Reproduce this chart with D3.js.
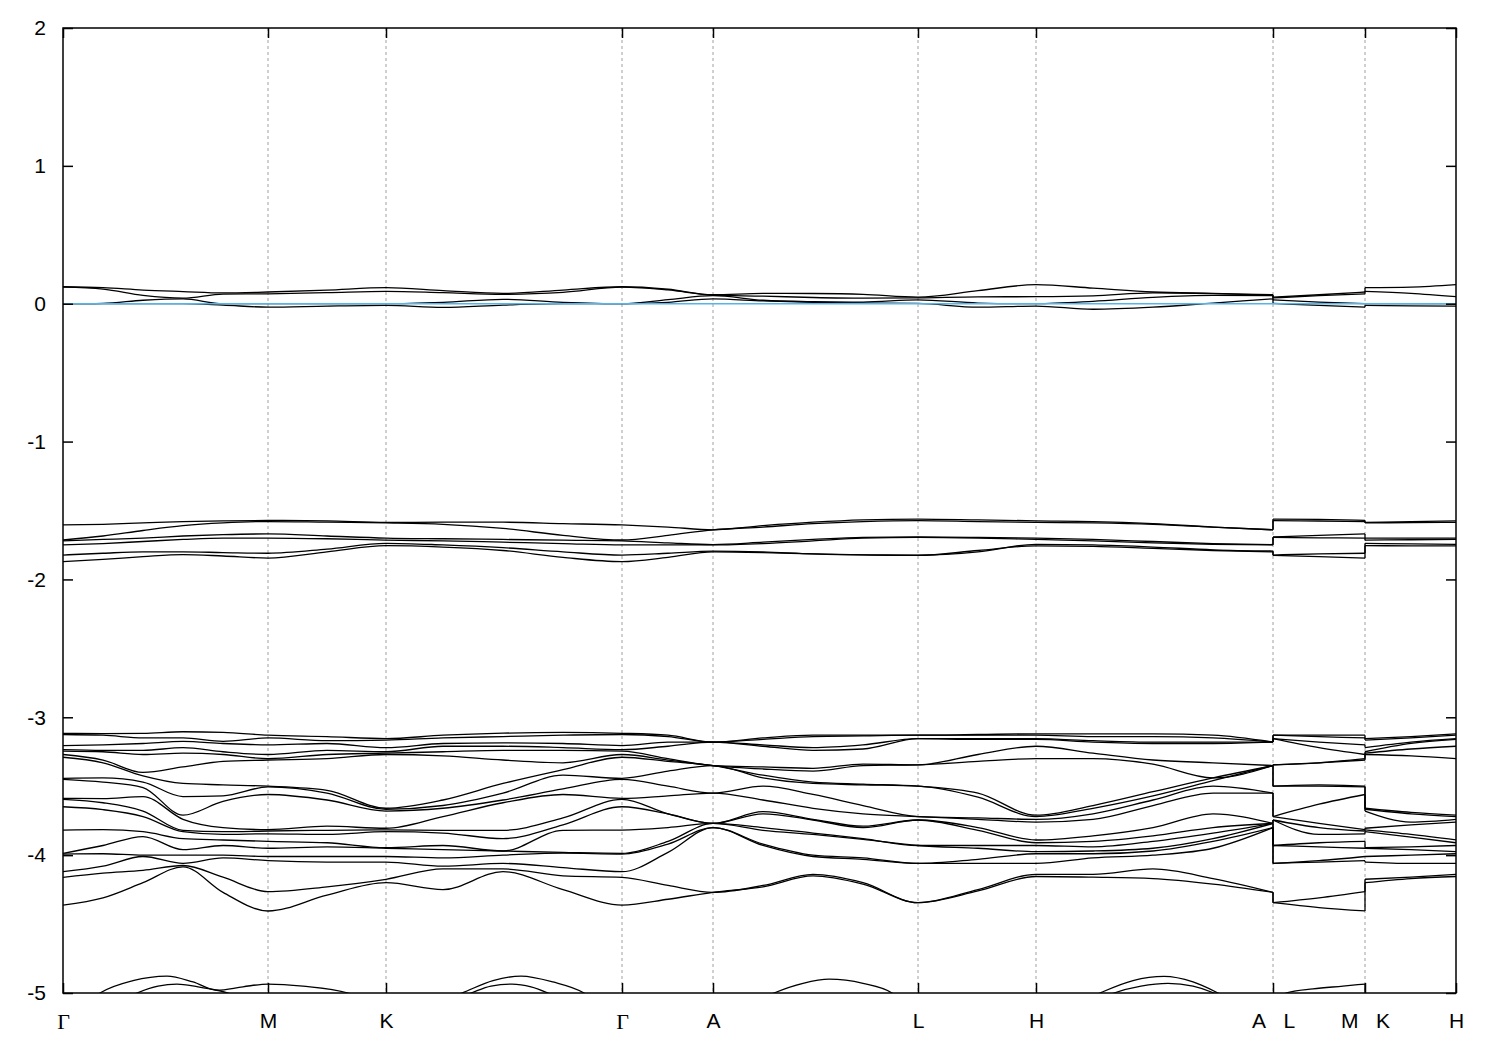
<!DOCTYPE html>
<html><head><meta charset="utf-8">
<script src="https://cdn.jsdelivr.net/npm/d3@7"></script>
<style>body{margin:0;background:#fff}</style>
</head><body>
<svg id="chart" width="1500" height="1050"></svg>
<script>
// ---- k-path (x axis) ----
const kTickPos = [0,205,323,559,650,855,973,1210,1302,1393];
const kTickLabels = ["Γ","M","K","Γ","A","L","H","A\u00a0\u00a0\u00a0L","M\u00a0\u00a0\u00a0K","H"];
const yTicks = [2,1,0,-1,-2,-3,-4,-5];
const kPath = [0,40,80,120,160,205,264,323,380,440,500,559,605,650,700,750,800,855,915,973,1030,1090,1150,1210];
const kLM = [1210,1256,1302];
const kKH = [1302,1348,1393];

// ---- bands near the Fermi level (per band) ----
const nearFermiPath = [
 [0.123,0.116,0.099,0.088,0.078,0.085,0.099,0.116,0.095,0.075,0.099,0.123,0.105,0.065,0.075,0.074,0.068,0.048,0.095,0.138,0.113,0.085,0.075,0.065],
 [0.12,0.106,0.06,0.04,0.07,0.072,0.08,0.09,0.08,0.068,0.082,0.12,0.10,0.062,0.055,0.045,0.04,0.042,0.05,0.051,0.057,0.078,0.073,0.062],
 [0,0.003,0.025,0.035,0,0,0,0,0.01,0.032,0.01,0,0.03,0.058,0.025,0.015,0.012,0.028,0.005,0,0.017,0.046,0.06,0.058],
 [0,0,0,0,-0.01,-0.025,-0.017,-0.012,-0.027,-0.01,0,0,0.01,0.035,0.02,0.01,0.005,0.002,-0.025,-0.017,-0.04,-0.025,0.005,0.035]
];
const nearFermiLM = [[0.048,0.065,0.085],[0.042,0.058,0.072],[0.028,0.012,0],[0.002,-0.012,-0.025]];
const nearFermiKH = [[0.116,0.12,0.138],[0.09,0.075,0.051],[0,0,0],[-0.012,-0.015,-0.017]];

// ---- bands around -1.7 eV (per band) ----
const midPath = [
 [-1.605,-1.60,-1.59,-1.58,-1.575,-1.572,-1.575,-1.586,-1.585,-1.585,-1.595,-1.605,-1.62,-1.64,-1.61,-1.585,-1.568,-1.562,-1.568,-1.575,-1.58,-1.595,-1.62,-1.64],
 [-1.714,-1.685,-1.645,-1.61,-1.59,-1.58,-1.585,-1.59,-1.60,-1.63,-1.68,-1.714,-1.68,-1.64,-1.62,-1.595,-1.58,-1.573,-1.58,-1.586,-1.59,-1.60,-1.62,-1.64],
 [-1.72,-1.71,-1.70,-1.685,-1.675,-1.67,-1.685,-1.70,-1.705,-1.71,-1.715,-1.72,-1.735,-1.747,-1.73,-1.71,-1.695,-1.692,-1.695,-1.70,-1.71,-1.725,-1.74,-1.747],
 [-1.75,-1.74,-1.725,-1.71,-1.70,-1.70,-1.705,-1.715,-1.72,-1.73,-1.74,-1.75,-1.75,-1.75,-1.74,-1.72,-1.70,-1.695,-1.70,-1.71,-1.72,-1.735,-1.745,-1.75],
 [-1.823,-1.81,-1.80,-1.80,-1.805,-1.81,-1.78,-1.738,-1.75,-1.77,-1.80,-1.823,-1.81,-1.794,-1.80,-1.815,-1.822,-1.823,-1.80,-1.745,-1.75,-1.765,-1.785,-1.794],
 [-1.871,-1.855,-1.835,-1.82,-1.83,-1.845,-1.80,-1.755,-1.765,-1.79,-1.84,-1.871,-1.84,-1.80,-1.805,-1.815,-1.822,-1.826,-1.79,-1.756,-1.76,-1.775,-1.79,-1.80]
];
const midLM = [[-1.562,-1.565,-1.572],[-1.573,-1.576,-1.58],[-1.692,-1.68,-1.67],[-1.695,-1.698,-1.70],[-1.823,-1.815,-1.81],[-1.826,-1.835,-1.845]];
const midKH = [[-1.586,-1.58,-1.575],[-1.59,-1.588,-1.586],[-1.70,-1.70,-1.70],[-1.715,-1.712,-1.71],[-1.738,-1.742,-1.745],[-1.755,-1.756,-1.756]];

// ---- bands between -3.1 and -4.4 eV (energies at each k-point) ----
const e3_G = [-3.116,-3.125,-3.205,-3.235,-3.245,-3.27,-3.29,-3.443,-3.45,-3.588,-3.595,-3.649,-3.818,-3.987,-3.992,-4.12,-4.161,-4.362];
const e3_M = [-3.13,-3.15,-3.20,-3.27,-3.30,-3.31,-3.50,-3.505,-3.56,-3.815,-3.825,-3.845,-3.90,-3.95,-4.01,-4.04,-4.265,-4.405];
const e3_K = [-3.155,-3.165,-3.22,-3.25,-3.26,-3.27,-3.66,-3.667,-3.68,-3.805,-3.817,-3.83,-3.946,-3.95,-4.01,-4.05,-4.175,-4.20];
const e3_A = [-3.18,-3.18,-3.18,-3.18,-3.35,-3.35,-3.35,-3.35,-3.55,-3.55,-3.77,-3.77,-3.77,-3.77,-3.80,-3.80,-4.27,-4.27];
const e3_L = [-3.13,-3.13,-3.155,-3.155,-3.345,-3.345,-3.50,-3.50,-3.72,-3.72,-3.745,-3.745,-3.93,-3.93,-4.06,-4.06,-4.345,-4.345];
const e3_H = [-3.12,-3.13,-3.155,-3.16,-3.21,-3.30,-3.71,-3.72,-3.74,-3.76,-3.89,-3.91,-3.93,-3.975,-3.99,-4.06,-4.14,-4.155];
const e3_GM1 = [-3.118,-3.13,-3.20,-3.24,-3.25,-3.31,-3.33,-3.44,-3.47,-3.59,-3.62,-3.67,-3.815,-3.93,-3.99,-4.08,-4.13,-4.31];
const e3_GM2 = [-3.116,-3.15,-3.19,-3.24,-3.27,-3.40,-3.425,-3.47,-3.51,-3.575,-3.68,-3.72,-3.83,-3.865,-4.00,-4.01,-4.11,-4.20];
const e3_GM3 = [-3.105,-3.15,-3.175,-3.22,-3.26,-3.36,-3.48,-3.575,-3.71,-3.74,-3.82,-3.83,-3.88,-3.96,-4.00,-4.06,-4.075,-4.085];
const e3_GM4 = [-3.11,-3.175,-3.19,-3.25,-3.27,-3.32,-3.49,-3.57,-3.61,-3.80,-3.83,-3.85,-3.89,-3.93,-4.00,-4.02,-4.16,-4.27];
const e3_MK1 = [-3.14,-3.17,-3.19,-3.24,-3.27,-3.30,-3.53,-3.55,-3.60,-3.79,-3.82,-3.85,-3.91,-3.94,-4.01,-4.05,-4.23,-4.29];
const e3_KG1 = [-3.13,-3.15,-3.19,-3.21,-3.25,-3.28,-3.60,-3.64,-3.66,-3.72,-3.82,-3.84,-3.93,-3.96,-4.02,-4.08,-4.10,-4.25];
const e3_KG2 = [-3.115,-3.14,-3.185,-3.21,-3.24,-3.31,-3.48,-3.55,-3.60,-3.62,-3.82,-3.88,-3.97,-3.97,-4.00,-4.06,-4.10,-4.12];
const e3_KG3 = [-3.11,-3.13,-3.19,-3.22,-3.24,-3.33,-3.38,-3.42,-3.52,-3.56,-3.73,-3.78,-3.82,-3.98,-3.985,-4.09,-4.15,-4.25];
const e3_GA1 = [-3.13,-3.14,-3.18,-3.21,-3.30,-3.31,-3.32,-3.39,-3.50,-3.57,-3.70,-3.70,-3.80,-3.90,-3.92,-3.98,-4.22,-4.32];
const e3_AL1 = [-3.15,-3.16,-3.20,-3.21,-3.36,-3.375,-3.42,-3.44,-3.50,-3.60,-3.685,-3.70,-3.80,-3.82,-3.92,-3.93,-4.22,-4.23];
const e3_AL2 = [-3.13,-3.14,-3.22,-3.24,-3.37,-3.39,-3.47,-3.48,-3.56,-3.66,-3.74,-3.745,-3.84,-3.85,-4.00,-4.01,-4.14,-4.15];
const e3_AL3 = [-3.13,-3.135,-3.20,-3.23,-3.34,-3.35,-3.485,-3.49,-3.64,-3.70,-3.79,-3.80,-3.88,-3.885,-4.02,-4.03,-4.20,-4.21];
const e3_LH1 = [-3.125,-3.13,-3.155,-3.16,-3.27,-3.32,-3.55,-3.58,-3.73,-3.74,-3.80,-3.82,-3.93,-3.95,-4.03,-4.06,-4.25,-4.26];
const e3_HA1 = [-3.12,-3.14,-3.17,-3.18,-3.26,-3.30,-3.64,-3.66,-3.70,-3.74,-3.86,-3.90,-3.94,-3.97,-3.99,-4.02,-4.14,-4.16];
const e3_HA2 = [-3.12,-3.14,-3.18,-3.19,-3.31,-3.34,-3.54,-3.57,-3.60,-3.64,-3.80,-3.86,-3.90,-3.95,-3.97,-4.00,-4.10,-4.17];
const e3_HA3 = [-3.13,-3.15,-3.18,-3.19,-3.33,-3.44,-3.44,-3.46,-3.50,-3.55,-3.70,-3.80,-3.84,-3.88,-3.90,-3.95,-4.17,-4.21];
const e3_LM1 = [-3.13,-3.14,-3.18,-3.22,-3.33,-3.33,-3.49,-3.50,-3.63,-3.77,-3.80,-3.85,-3.91,-3.94,-4.04,-4.05,-4.31,-4.38];
const e3_KH1 = [-3.14,-3.15,-3.18,-3.19,-3.23,-3.28,-3.69,-3.70,-3.76,-3.78,-3.85,-3.87,-3.94,-3.96,-4.00,-4.06,-4.16,-4.17];
const lowRowsPath = [e3_G,e3_GM1,e3_GM2,e3_GM3,e3_GM4,e3_M,e3_MK1,e3_K,e3_KG1,e3_KG2,e3_KG3,e3_G,e3_GA1,e3_A,e3_AL1,e3_AL2,e3_AL3,e3_L,e3_LH1,e3_H,e3_HA1,e3_HA2,e3_HA3,e3_A];
const lowRowsLM = [e3_L,e3_LM1,e3_M];
const lowRowsKH = [e3_K,e3_KH1,e3_H];

// ---- deep bands peeking above -5 eV ----
const deepAk = [0,37,70,104,130,154,180,205,240,285,323,360,399,430,458,490,521,559,650,711,740,766,800,829,855,973,1037,1070,1101,1130,1155,1210];
const deepAv = [-5.25,-5.0,-4.91,-4.877,-4.92,-4.98,-4.955,-4.935,-4.95,-5.0,-5.12,-5.1,-5.0,-4.91,-4.877,-4.92,-5.0,-5.25,-5.25,-5.0,-4.93,-4.90,-4.93,-5.0,-5.2,-5.25,-5.0,-4.91,-4.88,-4.92,-5.0,-5.25];
const deepAkLM = [1210,1223,1250,1280,1302];
const deepAvLM = [-5.2,-5.0,-4.97,-4.95,-4.935];
const deepAvKH = [-5.12,-5.18,-5.25];
const deepBk = [0,74,95,114,135,154,180,205,323,408,428,449,468,485,559,973,1051,1078,1105,1130,1151,1210];
const deepBv = [-5.35,-5.0,-4.95,-4.935,-4.955,-4.98,-5.03,-5.06,-5.25,-5.0,-4.95,-4.935,-4.955,-5.0,-5.35,-5.35,-5.0,-4.95,-4.93,-4.95,-5.0,-5.3];

// ---- drawing ----
const svg = d3.select('#chart');
const x = d3.scaleLinear().domain([0,1393]).range([63,1456]);
const y = d3.scaleLinear().domain([-5,2]).range([993,28]);
const curve = d3.line().x(d=>x(d[0])).y(d=>y(d[1])).curve(d3.curveMonotoneX);
const straight = d3.line().x(d=>x(d[0])).y(d=>y(d[1]));

svg.append('rect').attr('width',1500).attr('height',1050).attr('fill','#fff');
svg.append('defs').append('clipPath').attr('id','plotclip')
  .append('rect').attr('x',x(0)).attr('y',y(2)).attr('width',x(1393)-x(0)).attr('height',y(-5)-y(2));

// dashed vertical lines at high-symmetry points
svg.append('g').selectAll('line').data(kTickPos.slice(1,-1)).join('line')
  .attr('x1',d=>x(d)).attr('x2',d=>x(d)).attr('y1',y(2)).attr('y2',y(-5))
  .attr('stroke','#a0a0a0').attr('stroke-width',1).attr('stroke-dasharray','3,3');

const bands = svg.append('g').attr('clip-path','url(#plotclip)')
  .attr('fill','none').attr('stroke','#000').attr('stroke-width',1.3).attr('stroke-linejoin','round');

const transpose = rows => rows[0].map((_,i)=>rows.map(r=>r[i]));

function drawGroup(pathB, lmB, khB){
  pathB.forEach((b,i)=>{
    bands.append('path').attr('d', curve(kPath.map((k,j)=>[k,b[j]])));
    const lm = lmB[i], kh = khB[i];
    bands.append('path').attr('d', curve(kLM.map((k,j)=>[k,lm[j]])));
    bands.append('path').attr('d', curve(kKH.map((k,j)=>[k,kh[j]])));
    bands.append('path').attr('d', straight([[kLM[0], b[b.length-1]],[kLM[0], lm[0]]]));
    bands.append('path').attr('d', straight([[kKH[0], lm[lm.length-1]],[kKH[0], kh[0]]]));
  });
}
drawGroup(nearFermiPath, nearFermiLM, nearFermiKH);
drawGroup(midPath, midLM, midKH);
drawGroup(transpose(lowRowsPath), transpose(lowRowsLM), transpose(lowRowsKH));

// deep bands
bands.append('path').attr('d', curve(deepAk.map((k,j)=>[k,deepAv[j]])));
bands.append('path').attr('d', curve(deepAkLM.map((k,j)=>[k,deepAvLM[j]])));
bands.append('path').attr('d', straight([[1302, deepAvLM[deepAvLM.length-1]],[1302, deepAvKH[0]]]));
bands.append('path').attr('d', curve(deepBk.map((k,j)=>[k,deepBv[j]])));

// Fermi level
svg.append('line').attr('x1',x(0)).attr('x2',x(1393)).attr('y1',y(0)).attr('y2',y(0))
  .attr('stroke','#56b4e9').attr('stroke-width',1.6);

// axes
const font = '"Liberation Sans", Arial, Helvetica, sans-serif';
const gL = svg.append('g').attr('transform',`translate(${x(0)},0)`)
  .call(d3.axisLeft(y).tickValues(yTicks).tickSize(-10).tickPadding(17).tickFormat(d=>String(d)));
const gR = svg.append('g').attr('transform',`translate(${x(1393)},0)`)
  .call(d3.axisRight(y).tickValues(yTicks).tickSize(-10).tickFormat(''));
const gB = svg.append('g').attr('transform',`translate(0,${y(-5)})`)
  .call(d3.axisBottom(x).tickValues(kTickPos).tickSize(-10).tickPadding(20).tickFormat((d,i)=>kTickLabels[i]));
const gT = svg.append('g').attr('transform',`translate(0,${y(2)})`)
  .call(d3.axisTop(x).tickValues(kTickPos).tickSize(-10).tickFormat(''));
[gL,gR,gB,gT].forEach(g=>{
  g.select('.domain').remove();
  g.selectAll('.tick line').attr('stroke','#000').attr('stroke-width',1.5);
  g.selectAll('text').attr('font-family',font).attr('font-size',21).attr('fill','#000');
});
gB.selectAll('text').filter(function(){return this.textContent==='Γ';})
  .attr('font-family','"Liberation Serif", "Times New Roman", serif').attr('font-size',22);

// border
svg.append('rect').attr('x',x(0)).attr('y',y(2)).attr('width',x(1393)-x(0)).attr('height',y(-5)-y(2))
  .attr('fill','none').attr('stroke','#000').attr('stroke-width',1.5);
</script>
</body></html>
